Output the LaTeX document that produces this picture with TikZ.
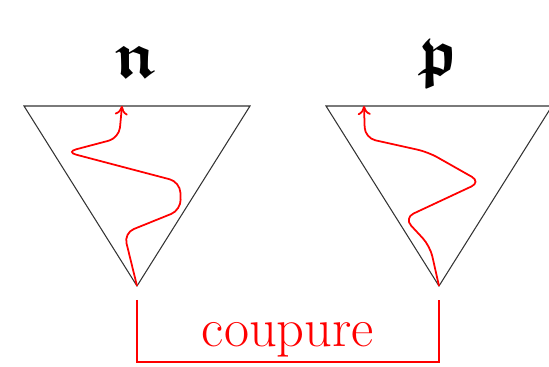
\documentclass[tikz,border=0pt]{standalone}
\usepackage{fontspec}
\usepackage{amsmath,amssymb}
\usetikzlibrary{arrows.meta, positioning, calc}

\begin{document}
\begin{tikzpicture}[
    x=0.02cm, y=-0.02cm,
    cone/.style={draw=black!80, line width=0.6pt},
    flow/.style={red, line width=1pt, rounded corners=6pt, -{To[length=1.8mm, width=2.6mm]}},
    cut/.style={red, line width=1pt},
    letter/.style={font=\Huge, scale=1.5, anchor=base}
]
\useasboundingbox (0,0) rectangle (549,367);

% triangles
\coordinate (nL) at (24,106);
\coordinate (nR) at (250,106);
\coordinate (nA) at (137,286);
\coordinate (pL) at (326,106);
\coordinate (pR) at (552,106);
\coordinate (pA) at (439,286);
\draw[cone] (nL) -- (nR) -- (nA) -- cycle;
\draw[cone] (pL) -- (pR) -- (pA) -- cycle;

\node[letter] (nlab) at (137,78) {$\boldsymbol{\mathfrak{n}}$};
\node[letter] (plab) at (438,76) {$\boldsymbol{\mathfrak{p}}$};

% paths inside
\coordinate (nT) at (122,106);
\coordinate (pT) at (364,106);
\draw[flow] (nA) -- (124,233) -- (181,210) -- (180,182) -- (66,152) -- (119,138) -- (nT);
\draw[flow] (pA) -- (430,246) -- (404,218) -- (481,182) -- (428,152) -- (365,138) -- (pT);

% cut
\coordinate (c1) at (137,300);
\coordinate (c2) at (439,300);
\draw[cut] (c1) -- ($(c1)+(0,62)$) -| (c2);
\node[red, font=\fontsize{31}{36}\selectfont, anchor=base] (cutlab) at (288,347) {coupure};

\end{tikzpicture}
\end{document}
